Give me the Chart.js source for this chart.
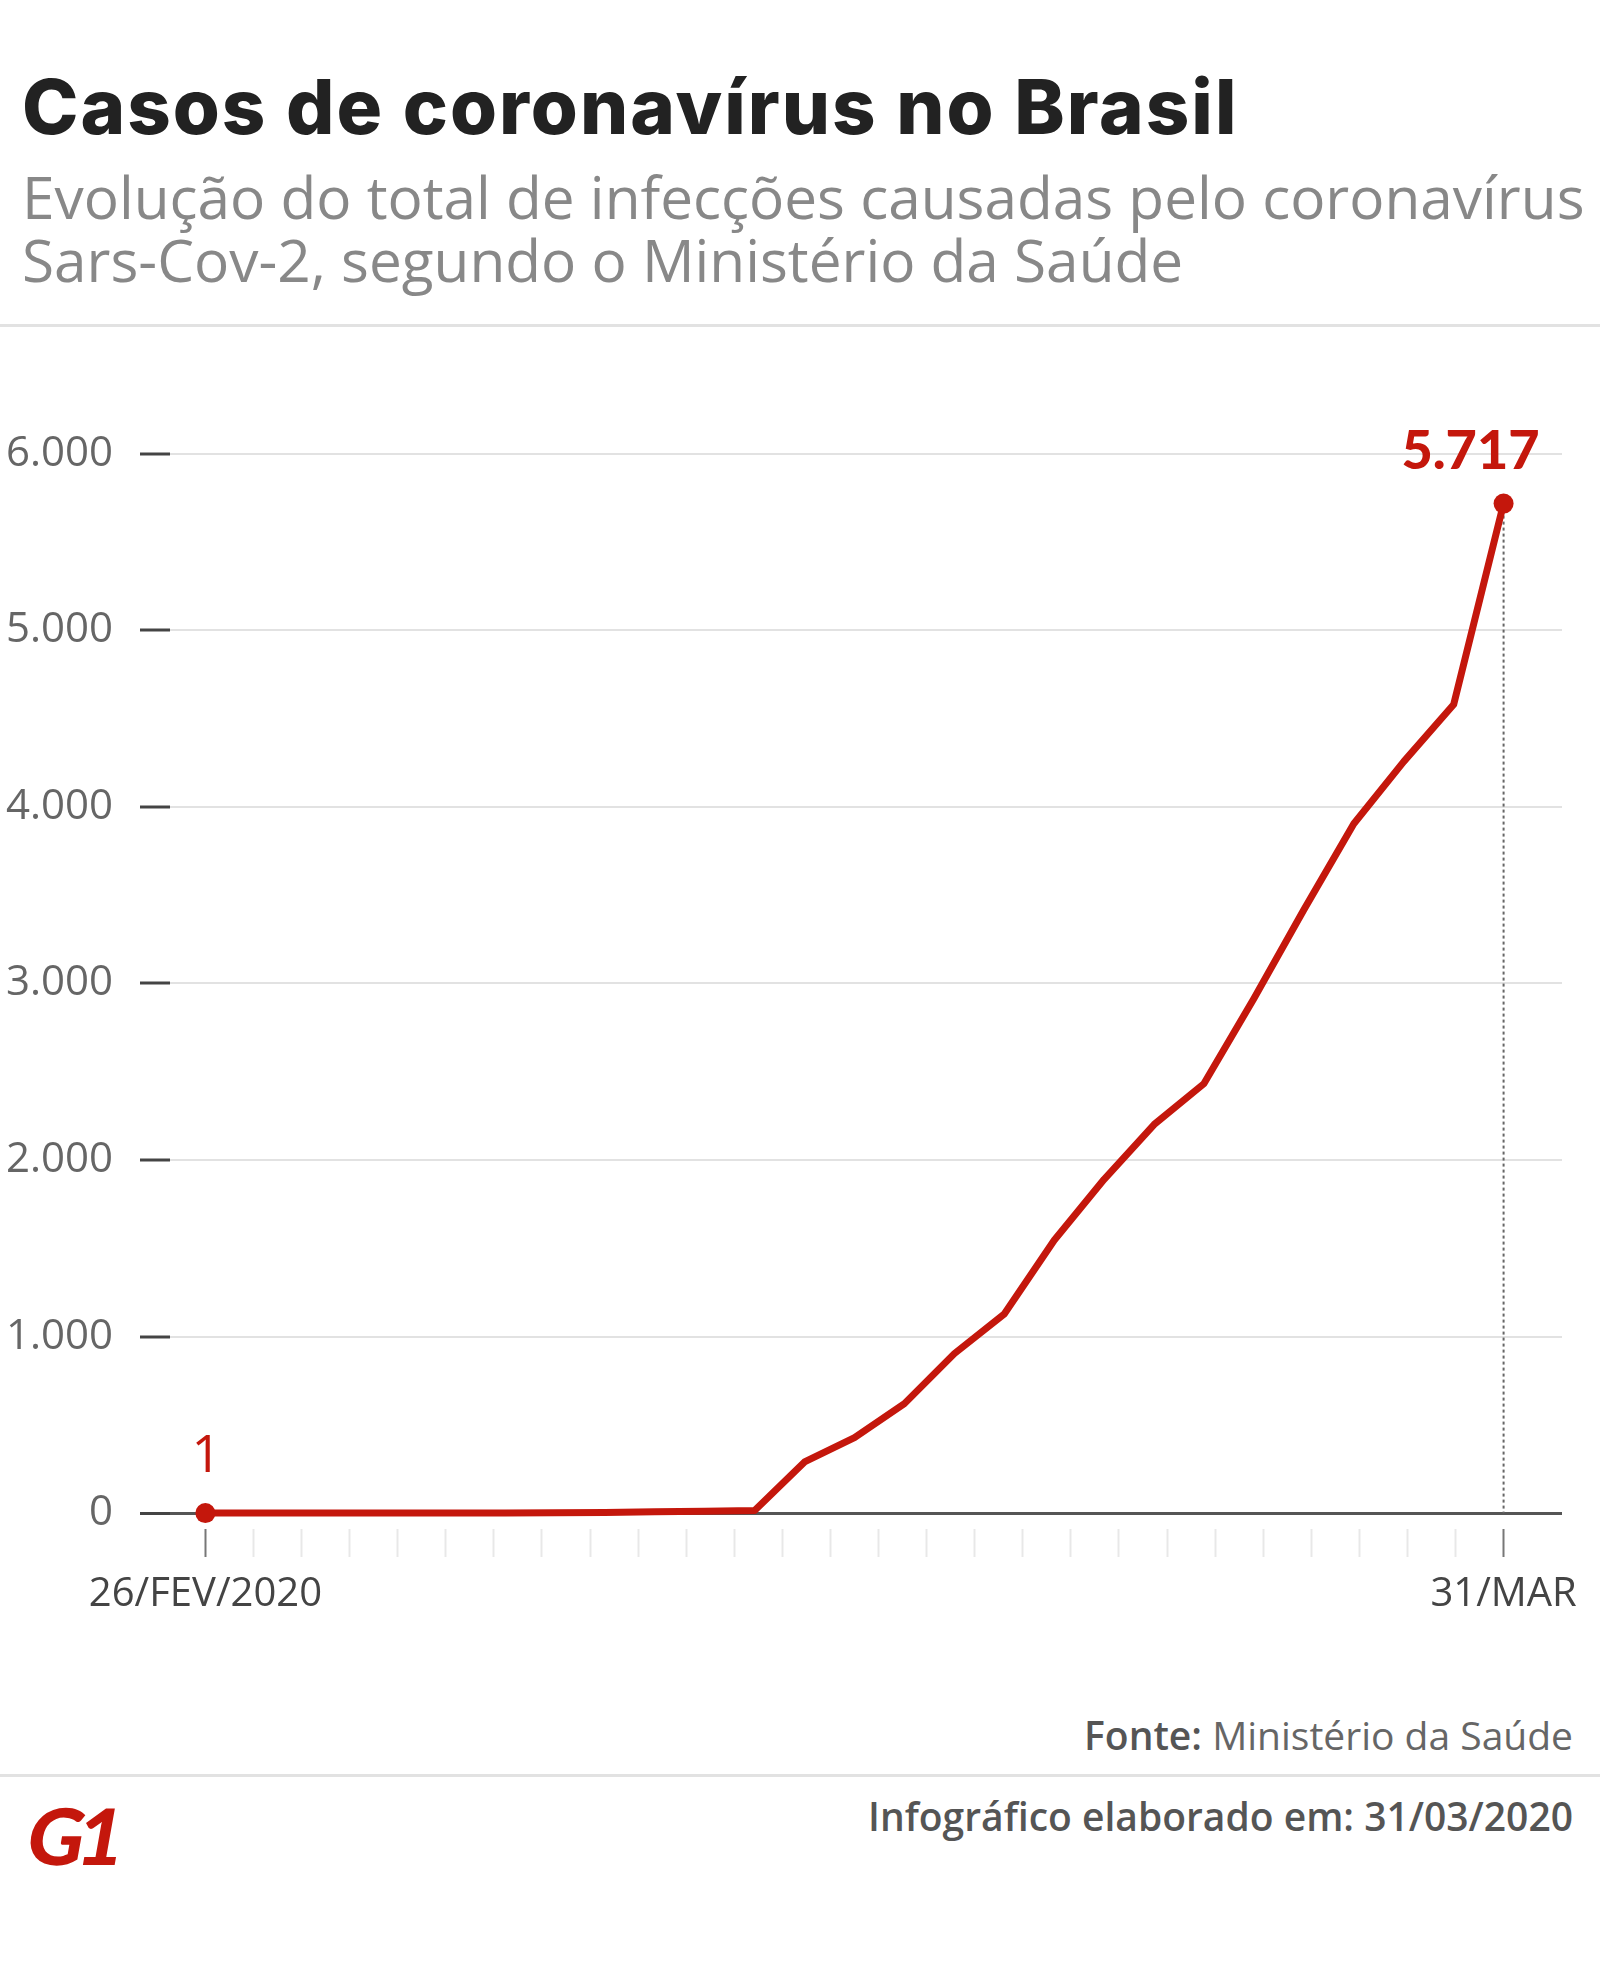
<!DOCTYPE html>
<html lang="pt-BR">
<head>
<meta charset="utf-8">
<title>Casos de coronavírus no Brasil</title>
<script src="https://cdn.jsdelivr.net/npm/chart.js@4.4.1/dist/chart.umd.min.js"></script>
<style>
  html, body { margin: 0; padding: 0; background: #fff; }
  body { width: 1600px; height: 1962px; position: relative; overflow: hidden; font-family: "Open Sans", sans-serif; }
  .abs { position: absolute; white-space: nowrap; }
  #title { left: 22px; top: 68px; font: 800 76px/1 Inter, sans-serif; color: #222; letter-spacing: 2px; }
  #subtitle { left: 22px; top: 165px; font-size: 58.5px; line-height: 63px; color: #888; }
  .rule { position: absolute; left: 0; width: 1600px; height: 3px; background: #e2e2e2; }
  #fonte { right: 27px; top: 1711px; font-size: 39px; line-height: 48px; color: #666; }
  #fonte b { font-weight: 600; color: #555; }
  #info { right: 27px; top: 1792px; font-size: 39px; line-height: 48px; font-weight: 600; color: #555; }
  #logo { left: 22px; top: 1796px; font: 900 78px/1 Lato, sans-serif; color: #c4170c; letter-spacing: -6px; transform: skewX(-10deg); transform-origin: left bottom; }
  #chart { position: absolute; left: 0; top: 330px; }
</style>
</head>
<body>
<div id="title" class="abs">Casos de coronavírus no Brasil</div>
<div id="subtitle" class="abs">Evolução do total de infecções causadas pelo coronavírus<br>Sars-Cov-2, segundo o Ministério da Saúde</div>
<div class="rule" style="top:324px"></div>
<canvas id="chart" width="1600" height="1330"></canvas>
<div id="fonte" class="abs"><b>Fonte:</b> Ministério da Saúde</div>
<div class="rule" style="top:1774px"></div>
<div id="info" class="abs">Infográfico elaborado em: 31/03/2020</div>
<div id="logo" class="abs">G1</div>

<script>
// dias com registro (o primeiro e o último aparecem no eixo)
var dias = ["26/FEV/2020", "29/FEV", "04/MAR", "05/MAR", "06/MAR", "07/MAR", "08/MAR",
            "10/MAR", "11/MAR", "12/MAR", "13/MAR", "16/MAR", "17/MAR", "18/MAR",
            "19/MAR", "20/MAR", "21/MAR", "22/MAR", "23/MAR", "24/MAR", "25/MAR",
            "26/MAR", "27/MAR", "28/MAR", "29/MAR", "30/MAR", "31/MAR"];
// total de casos confirmados
var casos = [1, 1, 1, 1, 2, 2, 2, 3, 5, 8, 12, 16, 291, 428,
             621, 904, 1128, 1546, 1891, 2201, 2433,
             2915, 3417, 3904, 4256, 4579, 5717];
var yTicks = [0, 1000, 2000, 3000, 4000, 5000, 6000];
var nMarcas = 28; // tracinhos no eixo x

var vermelho = "#c4170c";

function fmt(v) {
  return String(v).replace(/\B(?=(\d{3})+(?!\d))/g, ".");
}

var pontos = casos.map(function (v, i) { return { x: i, y: v }; });
var ultimo = casos.length - 1;

var marcadores = {
  id: "marcadores",
  beforeDatasetsDraw: function (chart) {
    var ctx = chart.ctx, x = chart.scales.x, y = chart.scales.y;
    var xl = x.getPixelForValue(ultimo);
    ctx.save();
    ctx.strokeStyle = "#666";
    ctx.lineWidth = 2;
    ctx.setLineDash([3, 3]);
    ctx.beginPath();
    ctx.moveTo(xl, y.getPixelForValue(casos[ultimo]));
    ctx.lineTo(xl, y.getPixelForValue(0));
    ctx.stroke();
    ctx.restore();
  },
  afterDatasetsDraw: function (chart) {
    var ctx = chart.ctx, x = chart.scales.x, y = chart.scales.y;
    ctx.save();
    ctx.fillStyle = vermelho;
    ctx.textAlign = "center";
    ctx.textBaseline = "alphabetic";
    ctx.font = "400 52px 'Open Sans'";
    ctx.fillText(fmt(casos[0]), x.getPixelForValue(0) + 1, y.getPixelForValue(casos[0]) - 41);
    ctx.textAlign = "right";
    ctx.font = "900 54px Lato";
    ctx.fillText(fmt(casos[ultimo]), x.getPixelForValue(ultimo) + 36, y.getPixelForValue(casos[ultimo]) - 35);
    ctx.restore();
  }
};

new Chart(document.getElementById("chart").getContext("2d"), {
  type: "line",
  data: {
    datasets: [{
      label: "Casos",
      data: pontos,
      borderColor: vermelho,
      backgroundColor: vermelho,
      borderWidth: 7,
      borderJoinStyle: "round",
      tension: 0,
      pointRadius: function (c) { return (c.dataIndex === 0 || c.dataIndex === ultimo) ? 10 : 0; },
      pointBorderWidth: 0,
      clip: false
    }]
  },
  options: {
    responsive: false,
    animation: false,
    devicePixelRatio: 1,
    layout: { padding: { top: 123.6, right: 38, bottom: 0, left: 0 } },
    plugins: { legend: { display: false }, tooltip: { enabled: false } },
    scales: {
      x: {
        type: "linear",
        min: -0.709,
        max: 27.17,
        afterFit: function (s) { s.height = 131; },
        afterBuildTicks: function (s) {
          var t = [];
          for (var k = 0; k < nMarcas; k++) t.push({ value: k * ultimo / (nMarcas - 1) });
          s.ticks = t;
        },
        border: { display: false },
        grid: {
          drawOnChartArea: false,
          drawTicks: true,
          tickLength: 28,
          tickWidth: 2,
          tickColor: function (c) { return (c.index === 0 || c.index === nMarcas - 1) ? "#777" : "#e8e8e8"; }
        },
        ticks: {
          autoSkip: false,
          maxRotation: 0,
          padding: 14,
          color: "#444",
          font: { family: "Open Sans", size: 40 },
          callback: function (v, i) {
            if (i === 0) return dias[0];
            if (i === nMarcas - 1) return dias[ultimo];
            return "";
          }
        }
      },
      y: {
        min: -89,
        max: 6000,
        afterFit: function (s) { s.width = 170; },
        afterBuildTicks: function (s) {
          s.ticks = yTicks.map(function (v) { return { value: v }; });
        },
        border: { display: false },
        grid: {
          color: function (c) { return c.tick && c.tick.value === 0 ? "#555" : "#e2e2e2"; },
          lineWidth: function (c) { return c.tick && c.tick.value === 0 ? 3 : 2; },
          tickLength: 30,
          tickColor: "#444",
          tickWidth: 3
        },
        ticks: {
          padding: 27,
          color: "#666",
          font: { family: "Open Sans", size: 42 },
          callback: function (v) { return fmt(v); }
        }
      }
    }
  },
  plugins: [marcadores]
});
</script>
</body>
</html>
